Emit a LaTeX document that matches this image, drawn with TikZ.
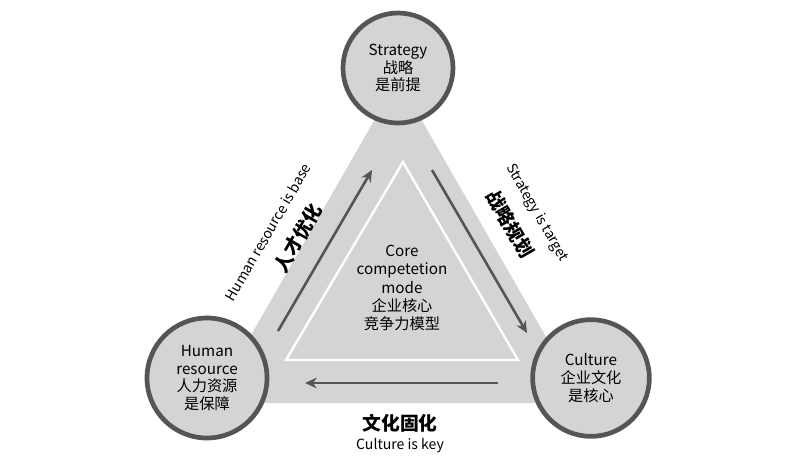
\documentclass[tikz,border=0pt]{standalone}
\usepackage{fontspec}
\setmainfont{Noto Sans CJK SC}
\usetikzlibrary{arrows.meta}
\definecolor{lgray}{HTML}{D4D4D4}
\definecolor{dgray}{HTML}{555555}
\tikzset{
  ring/.style={circle,draw=dgray,line width=4pt,fill=lgray,minimum size=#1,align=center,font=\fontsize{13}{15}\selectfont},
  flow/.style={draw=dgray,line width=2.2pt,-{Stealth[length=10pt,width=9pt]}},
  sidetxt/.style={font=\fontsize{12}{14}\selectfont},
  sidecn/.style={font=\fontsize{16}{18}\selectfont\bfseries}
}
\begin{document}
\begin{tikzpicture}[x=0.03cm,y=-0.03cm]
    \useasboundingbox (0,0) rectangle (800,462);
    % big triangle and inner triangle
    \fill[lgray] (398,79) -- (212,403) -- (584,403) -- cycle;
    \draw[white,line width=2pt] (403,162) -- (286,360) -- (518,360) -- cycle;
    \node[align=center,font=\fontsize{13}{15.5}\selectfont] (core) at (402,288) {Core\\competetion\\mode\\企业核心\\竞争力模型};
    % circles
    \node[ring=3.3cm] (strat) at (398,68) {Strategy\\战略\\是前提};
    \node[ring=3.6cm] (human) at (207,378) {Human\\resource\\人力资源\\是保障};
    \node[ring=3.5cm] (cult) at (591,378) {Culture\\企业文化\\是核心};
    % arrows
    \coordinate (a1) at (278,331);
    \coordinate (a2) at (372,170);
    \coordinate (b1) at (432,170);
    \coordinate (b2) at (527,333);
    \coordinate (c1) at (498,383);
    \coordinate (c2) at (305,383);
    \draw[flow] (a1) -- (a2);
    \draw[flow] (b1) -- (b2);
    \draw[flow] (c1) -- (c2);
    % labels
    \node[sidetxt,rotate=60] (hrtxt) at (268,232) {Human resource is base};
    \node[sidecn,rotate=60] (hrcn) at (298,238) {人才优化};
    \node[sidetxt,rotate=-60] (sttxt) at (537,213) {Strategy is target};
    \node[sidecn,rotate=-60] (stcn) at (510,224) {战略规划};
    \node[sidecn] (cucn) at (400,423) {文化固化};
    \node[sidetxt] (cutxt) at (400,446) {Culture is key};
\end{tikzpicture}
\end{document}
